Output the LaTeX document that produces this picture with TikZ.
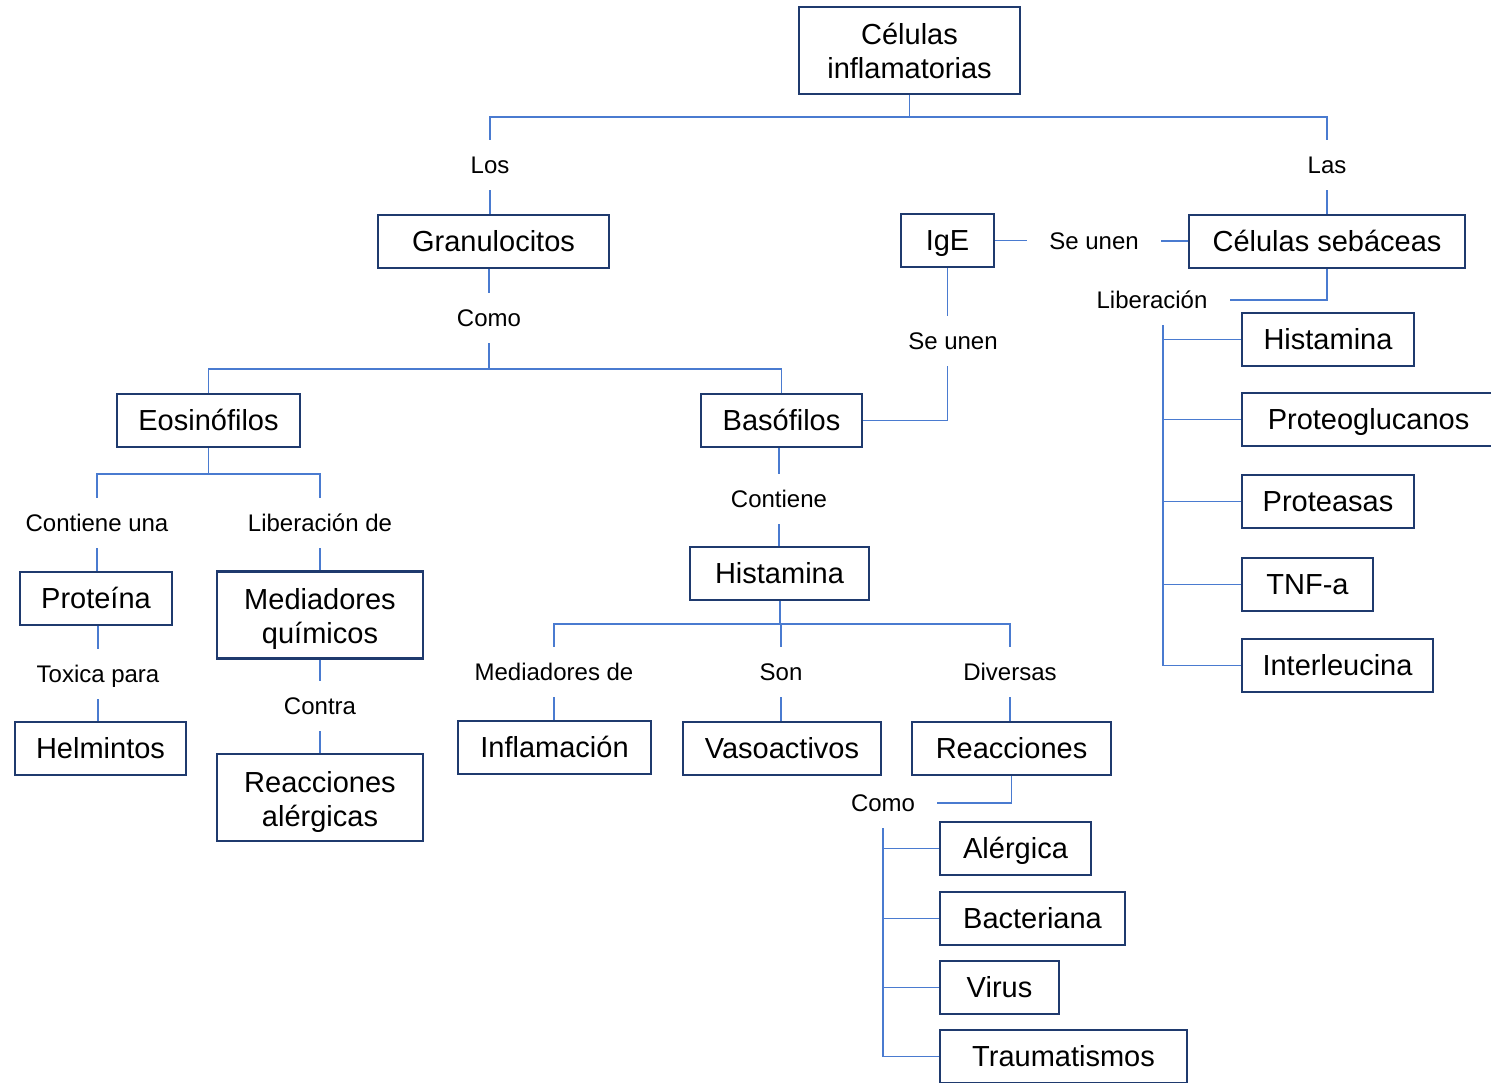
\documentclass[tikz,border=0pt]{standalone}
\usepackage{fontspec}
\setmainfont{Liberation Sans}
\definecolor{boxc}{HTML}{1F3A6E}
\definecolor{linec}{HTML}{4A7BD0}
\newcommand{\topstrut}{\rule{0pt}{14.5pt}}
\begin{document}
\begin{tikzpicture}[x=0.5pt,y=-0.5pt,
  box/.style={draw=boxc, line width=1.2pt, font=\fontsize{14.5}{17}\selectfont, minimum height=26.5pt, inner sep=0pt, align=center, text height=10.4pt, text depth=0pt},
  box2/.style={draw=boxc, line width=1.2pt, font=\fontsize{14.5}{17}\selectfont, minimum height=43.5pt, inner sep=0pt, align=center},
  lbl/.style={font=\fontsize{12}{14}\selectfont, inner xsep=11pt, inner ysep=0pt, minimum height=25pt, text height=8.6pt, text depth=0pt},
  conn/.style={draw=linec, line width=0.75pt}]
\useasboundingbox (0,0) rectangle (1491,1082);
% boxes
\node[box2, minimum width=110.5pt] (cel) at (909.5,50.5) {Células\\inflamatorias};
\node[box, minimum width=115.5pt] (gran) at (493.5,241.5) {Granulocitos};
\node[box, minimum width=46.5pt] (ige) at (947.5,240.5) {IgE};
\node[box, minimum width=138pt] (seb) at (1327,241.5) {Células sebáceas};
\node[box, minimum width=86pt] (hist2) at (1328,339.5) {Histamina};
\node[box, minimum width=126.5pt] (proteo) at (1368.5,419.5) {Proteoglucanos};
\node[box, minimum width=86pt] (protea) at (1328,501.5) {Proteasas};
\node[box, minimum width=65.5pt] (tnf) at (1307.5,584.5) {TNF-a};
\node[box, minimum width=95.5pt] (inter) at (1337.5,665.5) {Interleucina};
\node[box, minimum width=91.5pt] (eos) at (208.5,420.5) {Eosinófilos};
\node[box, minimum width=80.5pt] (baso) at (781.5,420.5) {Basófilos};
\node[box, minimum width=76pt] (prot) at (96,598.5) {Proteína};
\node[box2, minimum width=103pt] (med) at (320,615) {\topstrut Mediadores\\químicos};
\node[box, minimum width=85.5pt] (helm) at (100.5,748.5) {Helmintos};
\node[box2, minimum width=103pt] (reac2) at (320,797.5) {\topstrut Reacciones\\alérgicas};
\node[box, minimum width=89.5pt] (hist1) at (779.5,573.5) {Histamina};
\node[box, minimum width=96.5pt] (infl) at (554.5,747.5) {Inflamación};
\node[box, minimum width=99pt] (vaso) at (782,748.5) {Vasoactivos};
\node[box, minimum width=99.5pt] (reac) at (1011.5,748.5) {Reacciones};
\node[box, minimum width=75.5pt] (aler) at (1015.5,848.5) {Alérgica};
\node[box, minimum width=92.5pt] (bact) at (1032.5,918.5) {Bacteriana};
\node[box, minimum width=59.5pt] (virus) at (999.5,987.5) {Virus};
\node[box, minimum width=123.5pt] (trau) at (1063.5,1056.5) {Traumatismos};
% labels
\node[lbl] (los) at (490,165) {Los};
\node[lbl] (las) at (1327,165) {Las};
\node[lbl] (seunen1) at (1094,241) {Se unen};
\node[lbl] (lib) at (1152,300) {Liberación};
\node[lbl] (como1) at (489,318) {Como};
\node[lbl] (seunen2) at (953,341) {Se unen};
\node[lbl] (cont1) at (97,523) {Contiene una};
\node[lbl] (libde) at (320,523) {Liberación de};
\node[lbl] (conti) at (779,499) {Contiene};
\node[lbl] (tox) at (98,674) {Toxica para};
\node[lbl] (contra) at (320,706) {Contra};
\node[lbl] (medde) at (554,672) {Mediadores de};
\node[lbl] (son) at (781,672) {Son};
\node[lbl] (div) at (1010,672) {Diversas};
\node[lbl] (como2) at (883,803) {Como};
% branch coordinates
\coordinate (b1) at (909.5,117);
\coordinate (b2) at (489,369);
\coordinate (b3) at (208.5,474);
\coordinate (b4) at (780,624);
\coordinate (lt) at ([xshift=5.5pt]lib.south);
\coordinate (ct) at (como2.south);
% connectors
\draw[conn] (cel.south) -- (b1);
\draw[conn] (los.north) |- (b1) -| (las.north);
\draw[conn] (los.south) -- (los.south |- gran.north);
\draw[conn] (las.south) -- (seb.north);
\draw[conn] (como1.north |- gran.south) -- (como1.north);
\draw[conn] (como1.south) -- (b2);
\draw[conn] (eos.north) |- (b2) -| (baso.north);
\draw[conn] (ige.east) -- (ige.east -| seunen1.west);
\draw[conn] (seunen1.east) -- (seunen1.east -| seb.west);
\draw[conn] (ige.south) -- (ige.south |- seunen2.north);
\draw[conn] (ige.south |- seunen2.south) |- (baso.east);
\draw[conn] (seb.south) |- (lib.east);
\draw[conn] (lt) |- (hist2.west);
\draw[conn] (lt) |- (proteo.west);
\draw[conn] (lt) |- (protea.west);
\draw[conn] (lt) |- (tnf.west);
\draw[conn] (lt) |- (inter.west);
\draw[conn] (eos.south) -- (b3);
\draw[conn] (cont1.north) |- (b3) -| (libde.north);
\draw[conn] (cont1.south) -- (cont1.south |- prot.north);
\draw[conn] (libde.south) -- (med.north);
\draw[conn] (tox.north |- prot.south) -- (tox.north);
\draw[conn] (tox.south) -- (tox.south |- helm.north);
\draw[conn] (med.south) -- (contra.north);
\draw[conn] (contra.south) -- (reac2.north);
\draw[conn] (conti.north |- baso.south) -- (conti.north);
\draw[conn] (conti.south) -- (conti.south |- hist1.north);
\draw[conn] (hist1.south -| b4) -- (b4);
\draw[conn] (medde.north) |- (b4) -| (div.north);
\draw[conn] (son.north) -- (son.north |- b4);
\draw[conn] (medde.south) -- (medde.south |- infl.north);
\draw[conn] (son.south) -- (son.south |- vaso.north);
\draw[conn] (div.south) -- (div.south |- reac.north);
\draw[conn] (reac.south) |- (como2.east);
\draw[conn] (ct) |- (aler.west);
\draw[conn] (ct) |- (bact.west);
\draw[conn] (ct) |- (virus.west);
\draw[conn] (ct) |- (trau.west);
\end{tikzpicture}
\end{document}
